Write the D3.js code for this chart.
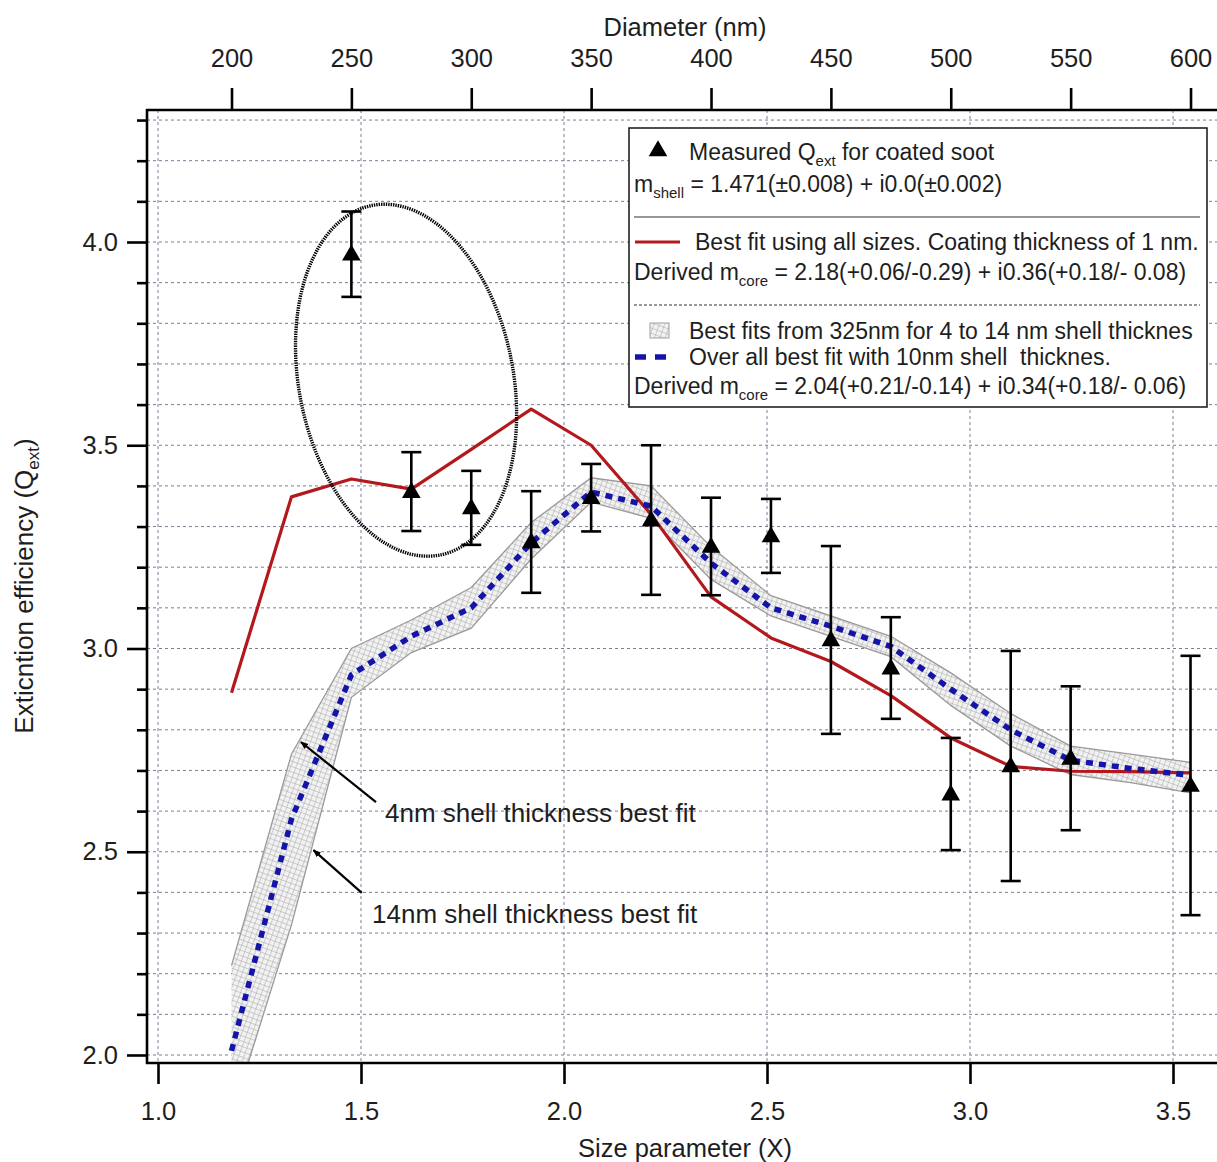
<!DOCTYPE html>
<html>
<head>
<meta charset="utf-8">
<script src="https://cdn.jsdelivr.net/npm/d3@7"></script>
<style>
  body { margin: 0; background: #fff; }
  svg { display: block; }
  text { font-family: "Liberation Sans", Arial, sans-serif; fill: #1e1e1e; }
</style>
</head>
<body>
<svg id="chart" width="1217" height="1162"></svg>
<script>
// Laser wavelength used to convert particle diameter to size parameter X = pi*d/lambda
const WAVELENGTH = 532;

// Measured extinction efficiency of coated soot (diameter in nm)
const measuredDiam = [250, 275, 300, 325, 350, 375, 400, 425, 450, 475, 500, 525, 550, 600];
const measuredQ    = [3.97, 3.386, 3.346, 3.262, 3.371, 3.316, 3.251, 3.277, 3.021, 2.952, 2.642, 2.711, 2.73, 2.663];
const measuredErr  = [0.105, 0.097, 0.091, 0.125, 0.083, 0.184, 0.12, 0.091, 0.231, 0.125, 0.138, 0.283, 0.177, 0.319];

// Model curves evaluated every 25 nm
const fitDiam   = [200, 225, 250, 275, 300, 325, 350, 375, 400, 425, 450, 475, 500, 525, 550, 575, 600];
const fitAll1nm = [2.891, 3.373, 3.417, 3.392, 3.49, 3.589, 3.50, 3.33, 3.127, 3.026, 2.968, 2.884, 2.78, 2.71, 2.698, 2.697, 2.694];
const fit10nm   = [2.01, 2.58, 2.935, 3.03, 3.10, 3.26, 3.385, 3.35, 3.21, 3.10, 3.055, 3.005, 2.90, 2.80, 2.725, 2.705, 2.688];
// Envelope of the 4-14 nm shell best fits
const bandUpper = [2.22, 2.74, 3.00, 3.07, 3.15, 3.31, 3.42, 3.40, 3.25, 3.13, 3.08, 3.03, 2.94, 2.84, 2.76, 2.74, 2.72];
const bandLower = [1.85, 2.32, 2.88, 2.99, 3.05, 3.22, 3.36, 3.32, 3.17, 3.08, 3.03, 2.98, 2.86, 2.76, 2.69, 2.67, 2.645];

// Tick values
const xMajorTicks = [1.0, 1.5, 2.0, 2.5, 3.0, 3.5];
const yMajorTicks = [2.0, 2.5, 3.0, 3.5, 4.0];
const yMinorTicks = [2.1, 2.2, 2.3, 2.4, 2.6, 2.7, 2.8, 2.9, 3.1, 3.2, 3.3, 3.4, 3.6, 3.7, 3.8, 3.9, 4.1, 4.2, 4.3];
const diamTicks   = [200, 250, 300, 350, 400, 450, 500, 550, 600];

const toX = d => Math.PI * d / WAVELENGTH;

const svg = d3.select("#chart");
const frame = { left: 147, top: 110, right: 1232, bottom: 1063 };

const x = d3.scaleLinear().domain([1, 3.5]).range([158, 1173]);
const y = d3.scaleLinear().domain([2, 4]).range([1055, 242]);
const xTop = d3.scaleLinear().domain([200, 600]).range([x(toX(200)), x(toX(600))]);

const defs = svg.append("defs");
defs.append("clipPath").attr("id", "plotClip")
  .append("rect")
  .attr("x", frame.left).attr("y", frame.top)
  .attr("width", frame.right - frame.left).attr("height", frame.bottom - frame.top);

const hatch = defs.append("pattern").attr("id", "hatch")
  .attr("patternUnits", "userSpaceOnUse").attr("width", 5).attr("height", 5)
  .attr("patternTransform", "rotate(20)");
hatch.append("rect").attr("width", 5).attr("height", 5).attr("fill", "#f2f2f2");
hatch.append("path").attr("d", "M0,0 L0,5 M0,0 L5,0")
  .attr("stroke", "#a6a6a6").attr("stroke-width", 1);

// Grid
const grid = svg.append("g").attr("clip-path", "url(#plotClip)");
grid.selectAll("line.h").data(yMajorTicks.concat(yMinorTicks)).join("line")
  .attr("x1", frame.left).attr("x2", frame.right)
  .attr("y1", d => y(d)).attr("y2", d => y(d))
  .attr("stroke", "#7c7c94").attr("stroke-width", 1).attr("stroke-dasharray", "3,3");
grid.selectAll("line.v").data(xMajorTicks).join("line")
  .attr("y1", frame.top).attr("y2", frame.bottom)
  .attr("x1", d => x(d)).attr("x2", d => x(d))
  .attr("stroke", "#7c7c94").attr("stroke-width", 1).attr("stroke-dasharray", "3,3");

const plot = svg.append("g").attr("clip-path", "url(#plotClip)");

// Shell-thickness band
const bandData = fitDiam.map((d, i) => ({ d, hi: bandUpper[i], lo: bandLower[i] }));
plot.append("path").datum(bandData)
  .attr("d", d3.area().x(p => x(toX(p.d))).y0(p => y(p.lo)).y1(p => y(p.hi)))
  .attr("fill", "url(#hatch)");
[bandUpper, bandLower].forEach(arr => {
  plot.append("path").datum(fitDiam.map((d, i) => [d, arr[i]]))
    .attr("d", d3.line().x(p => x(toX(p[0]))).y(p => y(p[1])))
    .attr("fill", "none").attr("stroke", "#9a9a9a").attr("stroke-width", 1.3);
});

// 1 nm coating fit (red)
plot.append("path").datum(fitDiam.map((d, i) => [d, fitAll1nm[i]]))
  .attr("d", d3.line().x(p => x(toX(p[0]))).y(p => y(p[1])))
  .attr("fill", "none").attr("stroke", "#b3191c").attr("stroke-width", 3.2)
  .attr("stroke-linejoin", "round");

// 10 nm shell fit (blue dashed)
plot.append("path").datum(fitDiam.map((d, i) => [d, fit10nm[i]]))
  .attr("d", d3.line().x(p => x(toX(p[0]))).y(p => y(p[1])))
  .attr("fill", "none").attr("stroke", "#1414a8").attr("stroke-width", 5.5)
  .attr("stroke-dasharray", "7,6");

// Measured points with error bars
const pts = measuredDiam.map((d, i) => ({ X: toX(d), q: measuredQ[i], e: measuredErr[i] }));
const eb = plot.append("g").attr("stroke", "#000").attr("stroke-width", 2.6);
pts.forEach(p => {
  const cx = x(p.X), t = y(p.q + p.e), b = y(p.q - p.e);
  eb.append("line").attr("x1", cx).attr("x2", cx).attr("y1", t).attr("y2", b);
  eb.append("line").attr("x1", cx - 10).attr("x2", cx + 10).attr("y1", t).attr("y2", t);
  eb.append("line").attr("x1", cx - 10).attr("x2", cx + 10).attr("y1", b).attr("y2", b);
});
plot.selectAll("path.tri").data(pts).join("path")
  .attr("d", d3.symbol(d3.symbolTriangle, 150))
  .attr("transform", p => `translate(${x(p.X)},${y(p.q) + 1})`)
  .attr("fill", "#000");

// Ellipse around the smallest sizes
const ell = { X: 1.611, q: 3.66, rx: 0.264, ry: 0.438, angle: -11 };
svg.append("ellipse")
  .attr("cx", 0).attr("cy", 0)
  .attr("rx", x(1 + ell.rx) - x(1)).attr("ry", y(2) - y(2 + ell.ry))
  .attr("transform", `translate(${x(ell.X)},${y(ell.q)}) rotate(${ell.angle})`)
  .attr("fill", "none").attr("stroke", "#000").attr("stroke-width", 3.4)
  .attr("stroke-dasharray", "1.4,1");

// Frame lines
svg.append("line").attr("x1", frame.left).attr("x2", frame.left).attr("y1", frame.top - 1).attr("y2", frame.bottom + 1)
  .attr("stroke", "#000").attr("stroke-width", 2.6);
svg.append("line").attr("x1", frame.left - 1).attr("x2", frame.right).attr("y1", frame.bottom).attr("y2", frame.bottom)
  .attr("stroke", "#000").attr("stroke-width", 2.6);
svg.append("line").attr("x1", frame.left - 1).attr("x2", frame.right).attr("y1", frame.top).attr("y2", frame.top)
  .attr("stroke", "#000").attr("stroke-width", 2.6);

// Axes
const styleAxis = g => {
  g.select(".domain").remove();
  g.selectAll(".tick line").attr("stroke", "#000").attr("stroke-width", 2.6);
  g.selectAll(".tick text").attr("fill", "#1e1e1e").style("font-size", "25.5px")
    .style("font-family", "'Liberation Sans', Arial, sans-serif");
};
svg.append("g").attr("transform", `translate(${frame.left},0)`)
  .call(d3.axisLeft(y).tickValues(yMinorTicks).tickSize(10).tickFormat(""))
  .call(styleAxis);
svg.append("g").attr("transform", `translate(${frame.left},0)`)
  .call(d3.axisLeft(y).tickValues(yMajorTicks).tickSize(20).tickPadding(9).tickFormat(d3.format(".1f")))
  .call(styleAxis);
svg.append("g").attr("transform", `translate(0,${frame.bottom})`)
  .call(d3.axisBottom(x).tickValues(xMajorTicks).tickSize(21).tickPadding(18).tickFormat(d3.format(".1f")))
  .call(styleAxis);
svg.append("g").attr("transform", `translate(0,${frame.top})`)
  .call(d3.axisTop(xTop).tickValues(diamTicks).tickSize(22).tickPadding(21).tickFormat(d3.format("d")))
  .call(styleAxis);

// Axis titles
svg.append("text").attr("x", 685).attr("y", 36).attr("text-anchor", "middle")
  .style("font-size", "25.5px").text("Diameter (nm)");
svg.append("text").attr("x", 685).attr("y", 1157).attr("text-anchor", "middle")
  .style("font-size", "25.5px").text("Size parameter (X)");
const yt = svg.append("text").attr("transform", "translate(33,586) rotate(-90)")
  .attr("text-anchor", "middle").style("font-size", "26px");
yt.append("tspan").text("Exticntion efficiency (Q");
yt.append("tspan").attr("dy", 6).style("font-size", "17px").text("ext");
yt.append("tspan").attr("dy", -6).text(")");

// Arrow annotations
defs.append("marker").attr("id", "arrowHead").attr("viewBox", "0 0 10 10")
  .attr("refX", 9).attr("refY", 5).attr("markerWidth", 8).attr("markerHeight", 8)
  .attr("markerUnits", "userSpaceOnUse").attr("orient", "auto")
  .append("path").attr("d", "M0,1 L10,5 L0,9 Z").attr("fill", "#000");
const notes = [
  { from: [1.537, 2.622], to: [1.352, 2.77], label: "4nm shell thickness best fit", tx: 385, ty: 822 },
  { from: [1.502, 2.399], to: [1.383, 2.504], label: "14nm shell thickness best fit", tx: 372, ty: 923 }
];
notes.forEach(n => {
  svg.append("line")
    .attr("x1", x(n.from[0])).attr("y1", y(n.from[1]))
    .attr("x2", x(n.to[0])).attr("y2", y(n.to[1]))
    .attr("stroke", "#000").attr("stroke-width", 2.2).attr("marker-end", "url(#arrowHead)");
  svg.append("text").attr("x", n.tx).attr("y", n.ty).style("font-size", "26px").text(n.label);
});

// Legend
const lg = svg.append("g");
const L = { x: 629, y: 128, w: 578, h: 279 };
lg.append("rect").attr("x", L.x).attr("y", L.y).attr("width", L.w).attr("height", L.h)
  .attr("fill", "#fff").attr("stroke", "#222").attr("stroke-width", 1.6);
const fs = "23px";
const sub = (t, main, s, rest) => {
  t.append("tspan").text(main);
  t.append("tspan").attr("dy", 6).style("font-size", "15px").text(s);
  t.append("tspan").attr("dy", -6).text(rest);
};
lg.append("path").attr("d", d3.symbol(d3.symbolTriangle, 150))
  .attr("transform", `translate(658,151)`).attr("fill", "#000");
sub(lg.append("text").attr("x", 689).attr("y", 160).style("font-size", fs), "Measured Q", "ext", " for coated soot");
sub(lg.append("text").attr("x", 634).attr("y", 192).style("font-size", fs), "m", "shell", " = 1.471(±0.008) + i0.0(±0.002)");
lg.append("line").attr("x1", 634).attr("x2", 1200).attr("y1", 217).attr("y2", 217)
  .attr("stroke", "#333").attr("stroke-width", 1.2);
lg.append("line").attr("x1", 635).attr("x2", 680).attr("y1", 242).attr("y2", 242)
  .attr("stroke", "#b3191c").attr("stroke-width", 3.2);
lg.append("text").attr("x", 695).attr("y", 250).style("font-size", fs)
  .text("Best fit using all sizes. Coating thickness of 1 nm.");
sub(lg.append("text").attr("x", 634).attr("y", 280).style("font-size", fs), "Derived m", "core", " = 2.18(+0.06/-0.29) + i0.36(+0.18/- 0.08)");
lg.append("line").attr("x1", 634).attr("x2", 1200).attr("y1", 305).attr("y2", 305)
  .attr("stroke", "#333").attr("stroke-width", 1.2).attr("stroke-dasharray", "3,2");
lg.append("rect").attr("x", 650).attr("y", 323).attr("width", 19).attr("height", 15)
  .attr("fill", "url(#hatch)").attr("stroke", "#a0a0a0").attr("stroke-width", 1);
lg.append("text").attr("x", 689).attr("y", 339).style("font-size", fs)
  .text("Best fits from 325nm for 4 to 14 nm shell thicknes");
lg.append("line").attr("x1", 635).attr("x2", 672).attr("y1", 357).attr("y2", 357)
  .attr("stroke", "#1414a8").attr("stroke-width", 5.5).attr("stroke-dasharray", "11,9");
lg.append("text").attr("x", 689).attr("y", 365).style("font-size", fs)
  .text("Over all best fit with 10nm shell\u00a0 thicknes.");
sub(lg.append("text").attr("x", 634).attr("y", 394).style("font-size", fs), "Derived m", "core", " = 2.04(+0.21/-0.14) + i0.34(+0.18/- 0.06)");
</script>
</body>
</html>
